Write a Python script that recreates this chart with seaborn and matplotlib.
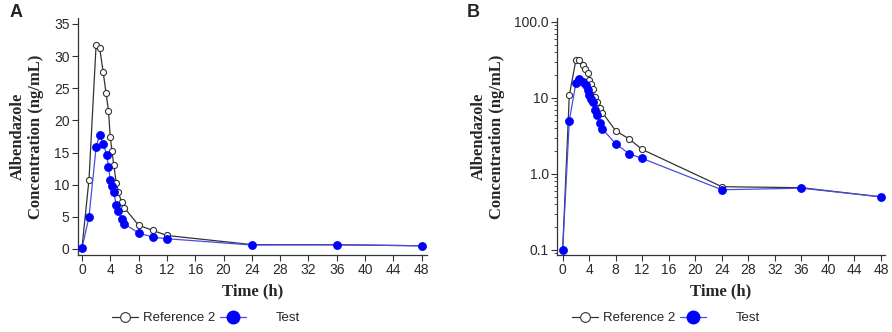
import numpy as np
import pandas as pd
import seaborn as sns
import matplotlib.pyplot as plt
from matplotlib.lines import Line2D
from matplotlib.ticker import FixedLocator, FixedFormatter, LogLocator, NullFormatter

# sampling times (h) and mean concentrations (ng/mL)
ref_time = [0, 1, 2, 2.5, 3, 3.4, 3.75, 4, 4.25, 4.5, 4.85, 5.15, 5.6, 6, 8, 10, 12, 24, 36, 48]
ref_conc = [0.1, 10.8, 31.7, 31.3, 27.5, 24.3, 21.5, 17.4, 15.2, 13.0, 10.3, 8.8, 7.3, 6.4,
            3.7, 2.9, 2.1, 0.68, 0.66, 0.5]
test_time = [0, 1, 2, 2.5, 3, 3.5, 3.75, 4, 4.25, 4.5, 4.85, 5.15, 5.6, 6, 8, 10, 12, 24, 36, 48]
test_conc = [0.1, 5.0, 15.8, 17.8, 16.4, 14.6, 12.8, 10.8, 9.8, 8.8, 6.9, 5.9, 4.7, 3.9,
             2.5, 1.85, 1.6, 0.62, 0.65, 0.5]

ref_df = pd.DataFrame({"time": ref_time, "conc": ref_conc})
test_df = pd.DataFrame({"time": test_time, "conc": test_conc})

sns.set_style("ticks")
plt.rcParams["font.family"] = ["Liberation Sans", "DejaVu Sans"]

fig = plt.figure(figsize=(8.92, 3.32), dpi=100)
axA = fig.add_axes([0.0874, 0.232, 0.391, 0.714])
axB = fig.add_axes([0.6244, 0.232, 0.3677, 0.713])

serif = dict(family=["Liberation Serif", "DejaVu Serif"], weight="bold", size=12)
ref_color = "#333333"
test_line = "#4a4ae6"
test_mark = "#0000ff"


def draw(ax):
    sns.lineplot(data=ref_df, x="time", y="conc", ax=ax, color=ref_color, lw=0.9,
                 marker="o", markersize=4.4, markerfacecolor="white",
                 markeredgecolor=ref_color, markeredgewidth=0.8, zorder=3)
    sns.lineplot(data=test_df, x="time", y="conc", ax=ax, color=test_line, lw=0.9,
                 marker="o", markersize=5.8, markerfacecolor=test_mark,
                 markeredgecolor=test_mark, markeredgewidth=0.5, zorder=4)
    sns.despine(ax=ax)
    ax.set_xticks(np.arange(0, 49, 4))
    ax.tick_params(direction="out", length=4, width=0.8, labelsize=10,
                   labelcolor="#2a2a2a", color="#333333", pad=2)
    for s in ["left", "bottom"]:
        ax.spines[s].set_linewidth(0.9)
        ax.spines[s].set_color("#333333")
    ax.set_xlabel("Time (h)", fontdict=serif)
    ax.set_ylabel("Albendazole\nConcentration (ng/mL)", fontdict=serif, linespacing=1.15)
    ax.xaxis.set_label_coords(0.5, -0.12)


draw(axA)
axA.set_xlim(-0.56, 48.7)
axA.set_ylim(-0.93, 35.93)
axA.set_yticks(np.arange(0, 36, 5))
axA.yaxis.set_label_coords(-0.097, 0.5)

draw(axB)
axB.set_yscale("log")
axB.set_xlim(-0.86, 48.6)
axB.set_ylim(0.0859, 112)
axB.yaxis.set_major_locator(FixedLocator([0.1, 1, 10, 100]))
axB.yaxis.set_major_formatter(FixedFormatter(["0.1", "1.0", "10", "100.0"]))
axB.yaxis.set_minor_locator(LogLocator(base=10, subs=np.arange(2, 10)))
axB.yaxis.set_minor_formatter(NullFormatter())
axB.tick_params(axis="y", which="minor", direction="out", length=2.5, width=0.6, color="#333333")
axB.yaxis.set_label_coords(-0.159, 0.5)

fig.text(10 / 892, 1 - 17 / 332, "A", weight="bold", size=13, va="baseline")
fig.text(467 / 892, 1 - 17 / 332, "B", weight="bold", size=13, va="baseline")

# legends below each panel
ref_handle = Line2D([], [], color=ref_color, lw=0.9, marker="o", markersize=7,
                    markerfacecolor="white", markeredgecolor=ref_color, markeredgewidth=0.8)
test_handle = Line2D([], [], color=test_line, lw=0.9, marker="o", markersize=9,
                     markerfacecolor=test_mark, markeredgecolor=test_mark)
leg_kw = dict(loc="center left", frameon=False, fontsize=9.5, handlelength=2.0,
              borderpad=0, borderaxespad=0, handletextpad=0.35)
for x_ref, x_test in [(112, 220), (572, 680)]:
    fig.legend([ref_handle], ["Reference 2"], bbox_to_anchor=(x_ref / 892, 1 - 318 / 332), **leg_kw)
    fig.legend([test_handle], ["Test"], bbox_to_anchor=(x_test / 892, 1 - 318 / 332),
               **{**leg_kw, "handletextpad": 2.2})

fig.savefig("out.png", dpi=100)
